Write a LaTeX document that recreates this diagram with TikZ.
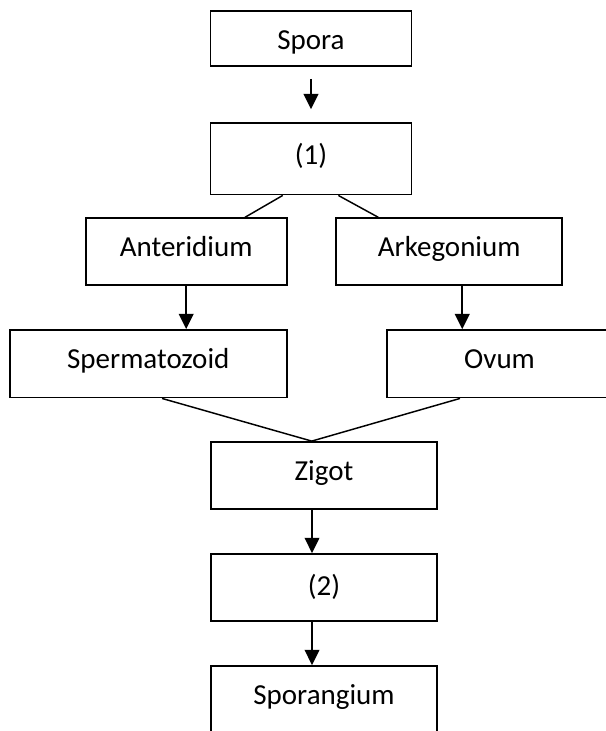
\documentclass[tikz,border=0pt]{standalone}
\usepackage{fontspec}
\setmainfont{Carlito}
\usetikzlibrary{arrows.meta}

\begin{document}
\begin{tikzpicture}[x=0.75pt,y=-0.75pt,
  box/.style={draw,line width=1.35pt,inner xsep=0pt,inner ysep=0pt,
    text height=28.5pt,text depth=21.75pt,
    font=\fontsize{21.75}{26}\selectfont},
  arr/.style={-{Triangle[width=11pt,length=11.5pt]},line width=1.5pt},
  link/.style={line width=1.1pt}]
\useasboundingbox (0,0) rectangle (606,731);
\clip (0,0) rectangle (606,731);

\node[box,minimum width=150.75pt,text height=29.25pt,text depth=12pt] (spora) at (311,38.5) {Spora};
\node[box,minimum width=150.75pt,text height=31.1pt,text depth=22.5pt] (one) at (311,158.8) {(1)};

\node[box,minimum width=150.75pt] (anter) at (186.2,251.7) {Anteridium};
\node[box,minimum width=169.7pt] (arke) at (449.2,251.7) {Arkegonium};

\node[box,minimum width=207.5pt,text height=28.7pt,text depth=21.9pt] (sperm) at (148.3,363.8) {Spermatozoid};
\node[box,minimum width=190pt,text height=28.7pt,text depth=21.9pt] (ovum) at (513.35,363.8) {Ovum\hspace*{20.7pt}};

\node[box,minimum width=169.5pt] (zigot) at (324,475.5) {Zigot};
\node[box,minimum width=169.5pt,text height=30.75pt,text depth=19.5pt] (two) at (324,587.5) {(2)};
\node[box,minimum width=169.5pt] (spor) at (324,699.5) {Sporangium};

\coordinate (join) at ([xshift=-9.2pt]zigot.north);

\draw[arr,shorten <=9pt,shorten >=9.75pt] (spora) -- (one);
\draw[link] ([xshift=-21.2pt]one.south) -- ([xshift=44.1pt]anter.north);
\draw[link] ([xshift=20.5pt]one.south) -- ([xshift=-53.2pt]arke.north);

\draw[arr] (anter.south) -- (anter.south |- sperm.north);
\draw[arr] ([xshift=9.8pt]arke.south) -- ([xshift=9.8pt]arke.south |- ovum.north);

\draw[link] ([xshift=10.3pt]sperm.south) -- (join);
\draw[link] ([xshift=-40pt]ovum.south) -- (join);

\draw[arr] ([xshift=-9pt]zigot.south) -- ([xshift=-9pt]two.north);
\draw[arr] ([xshift=-9pt]two.south) -- ([xshift=-9pt]spor.north);
\end{tikzpicture}
\end{document}
